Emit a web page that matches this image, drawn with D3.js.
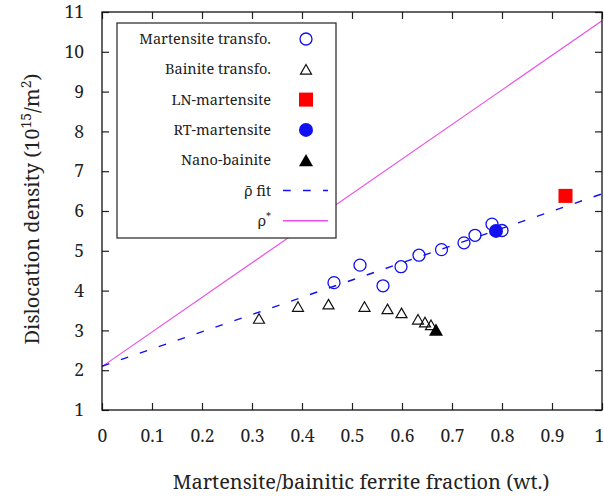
<!DOCTYPE html>
<html>
<head>
<meta charset="utf-8">
<script src="https://cdn.jsdelivr.net/npm/d3@7"></script>
<style>
  body { margin: 0; background: #fff; }
</style>
</head>
<body>
<svg id="chart" width="604" height="501"></svg>
<script>
// Martensite transformation (open blue circles)
const martX = [0.464, 0.516, 0.562, 0.598, 0.634, 0.679, 0.724, 0.746, 0.780, 0.800];
const martY = [4.20, 4.64, 4.12, 4.60, 4.89, 5.03, 5.20, 5.39, 5.67, 5.51];
// Bainite transformation (open triangles)
const bainX = [0.314, 0.392, 0.453, 0.525, 0.571, 0.599, 0.632, 0.646, 0.658];
const bainY = [3.30, 3.60, 3.66, 3.60, 3.54, 3.44, 3.28, 3.21, 3.14];
const lnX = [0.927], lnY = [6.38];
const rtX = [0.788], rtY = [5.50];
const nanoX = [0.668], nanoY = [3.02];
// fit lines
const fitX = [0, 1], fitY = [2.10, 6.43];
const rhoStarX = [0, 1], rhoStarY = [2.09, 10.78];

const xTicks = [0, 0.1, 0.2, 0.3, 0.4, 0.5, 0.6, 0.7, 0.8, 0.9, 1];
const yTicks = [1, 2, 3, 4, 5, 6, 7, 8, 9, 10, 11];

const FONT = '"Noto Serif", "Liberation Serif", serif';

const margin = {top: 12, right: 2, bottom: 91, left: 102};
const width = 604 - margin.left - margin.right;
const height = 501 - margin.top - margin.bottom;

const svg = d3.select("#chart");
const g = svg.append("g").attr("transform", `translate(${margin.left},${margin.top})`);

const x = d3.scaleLinear().domain([0, 1]).range([0, width]);
const y = d3.scaleLinear().domain([1, 11]).range([height, 0]);

const blue = "#1010f0", pink = "#ea4fe6", red = "#ff0000";

// axes, ticks inward on every side
const fmt = d3.format("~g");
g.append("g").attr("transform", `translate(0,${height})`)
  .call(d3.axisBottom(x).tickValues(xTicks).tickSize(-7).tickPadding(20).tickFormat(fmt))
  .call(a => a.select(".domain").remove())
  .call(a => a.selectAll("text").style("font-size", "17.5px"))
  .call(a => a.selectAll(".tick").filter(d => d === 1).select("text").attr("dx", -3));
g.append("g")
  .call(d3.axisTop(x).tickValues(xTicks).tickSize(-7).tickFormat(""))
  .call(a => a.select(".domain").remove());
g.append("g")
  .call(d3.axisLeft(y).tickValues(yTicks).tickSize(-7).tickPadding(18).tickFormat(fmt))
  .call(a => a.select(".domain").remove())
  .call(a => a.selectAll("text").style("font-size", "17.5px"));
g.append("g").attr("transform", `translate(${width},0)`)
  .call(d3.axisRight(y).tickValues(yTicks).tickSize(-7).tickFormat(""))
  .call(a => a.select(".domain").remove());
g.selectAll(".tick line").attr("stroke", "#222").attr("stroke-width", 1.2);

g.append("defs").append("clipPath").attr("id", "clip")
  .append("rect").attr("width", width).attr("height", height);

const line = d3.line().x(d => x(d[0])).y(d => y(d[1]));

g.append("path").datum(d3.zip(rhoStarX, rhoStarY))
  .attr("clip-path", "url(#clip)")
  .attr("fill", "none").attr("stroke", pink).attr("stroke-width", 1.2)
  .attr("d", line);
g.append("path").datum(d3.zip(fitX, fitY))
  .attr("clip-path", "url(#clip)")
  .attr("fill", "none").attr("stroke", blue).attr("stroke-width", 1.4)
  .attr("stroke-dasharray", "7.7,12.3")
  .attr("d", line);

// marker helpers
function tri(s) {
  const h = s * 0.87;
  return `M0,${-h / 2}L${s / 2},${h / 2}L${-s / 2},${h / 2}Z`;
}
function openCircle(sel) {
  sel.append("circle").attr("r", 6).attr("fill", "none").attr("stroke", blue).attr("stroke-width", 1.3);
}
function openTri(sel) {
  sel.append("path").attr("d", tri(11)).attr("fill", "none").attr("stroke", "#111").attr("stroke-width", 1.2);
}
function redSquare(sel) {
  sel.append("rect").attr("x", -7).attr("y", -7).attr("width", 14).attr("height", 14).attr("fill", red);
}
function fullCircle(sel) {
  sel.append("circle").attr("r", 7).attr("fill", blue);
}
function fullTri(sel) {
  sel.append("path").attr("d", tri(14)).attr("fill", "#000");
}

function drawSet(xs, ys, marker) {
  g.append("g").selectAll("g")
    .data(d3.zip(xs, ys))
    .join("g")
    .attr("transform", d => `translate(${x(d[0])},${y(d[1])})`)
    .each(function() { marker(d3.select(this)); });
}
drawSet(bainX, bainY, openTri);
drawSet(nanoX, nanoY, fullTri);
drawSet(rtX, rtY, fullCircle);
drawSet(martX, martY, openCircle);
drawSet(lnX, lnY, redSquare);

// border
g.append("rect").attr("width", width).attr("height", height)
  .attr("fill", "none").attr("stroke", "#111").attr("stroke-width", 1.3);

// legend
const leg = g.append("g").attr("transform", "translate(15,11)");
leg.append("rect").attr("width", 219).attr("height", 215)
  .attr("fill", "#fff").attr("stroke", "#333").attr("stroke-width", 1.3);
const legItems = [
  {label: "Martensite transfo.", marker: openCircle},
  {label: "Bainite transfo.", marker: openTri},
  {label: "LN-martensite", marker: redSquare},
  {label: "RT-martensite", marker: fullCircle},
  {label: "Nano-bainite", marker: fullTri}
];
const textX = 154;
legItems.forEach((it, i) => {
  const yy = 16 + i * 30.3;
  leg.append("text").attr("x", textX).attr("y", yy).attr("dy", "0.35em")
    .attr("text-anchor", "end").style("font-size", "14.5px").text(it.label);
  const m = leg.append("g").attr("transform", `translate(189,${yy})`);
  it.marker(m);
});
// line entries
const yFit = 16 + 5 * 30.3, yRho = 16 + 6 * 30.3;
leg.append("text").attr("x", textX).attr("y", yFit).attr("dy", "0.35em")
  .attr("text-anchor", "end").style("font-size", "14.5px")
  .text("\u03C1\u0304 fit");
leg.append("line").attr("x1", 166).attr("x2", 211).attr("y1", yFit).attr("y2", yFit)
  .attr("stroke", blue).attr("stroke-width", 1.4).attr("stroke-dasharray", "7.7,12.3");
const tRho = leg.append("text").attr("x", textX).attr("y", yRho).attr("dy", "0.35em")
  .attr("text-anchor", "end").style("font-size", "14.5px");
tRho.append("tspan").text("\u03C1");
tRho.append("tspan").attr("dy", "-6").style("font-size", "10px").text("*");
leg.append("line").attr("x1", 166).attr("x2", 211).attr("y1", yRho).attr("y2", yRho)
  .attr("stroke", pink).attr("stroke-width", 1.4);

// axis titles
svg.append("text").attr("x", 361).attr("y", 489)
  .attr("text-anchor", "middle").style("font-size", "20px")
  .text("Martensite/bainitic ferrite fraction (wt.)");
const yt = svg.append("text")
  .attr("transform", `translate(39,${margin.top + height / 2 - 2}) rotate(-90)`)
  .attr("text-anchor", "middle").style("font-size", "20px");
yt.append("tspan").text("Dislocation density (10");
yt.append("tspan").attr("dy", "-8").style("font-size", "14px").text("15");
yt.append("tspan").attr("dy", "8").text("/m");
yt.append("tspan").attr("dy", "-8").style("font-size", "14px").text("2");
yt.append("tspan").attr("dy", "8").text(")");

svg.selectAll("text").style("font-family", FONT).attr("fill", "#222");
</script>
</body>
</html>
